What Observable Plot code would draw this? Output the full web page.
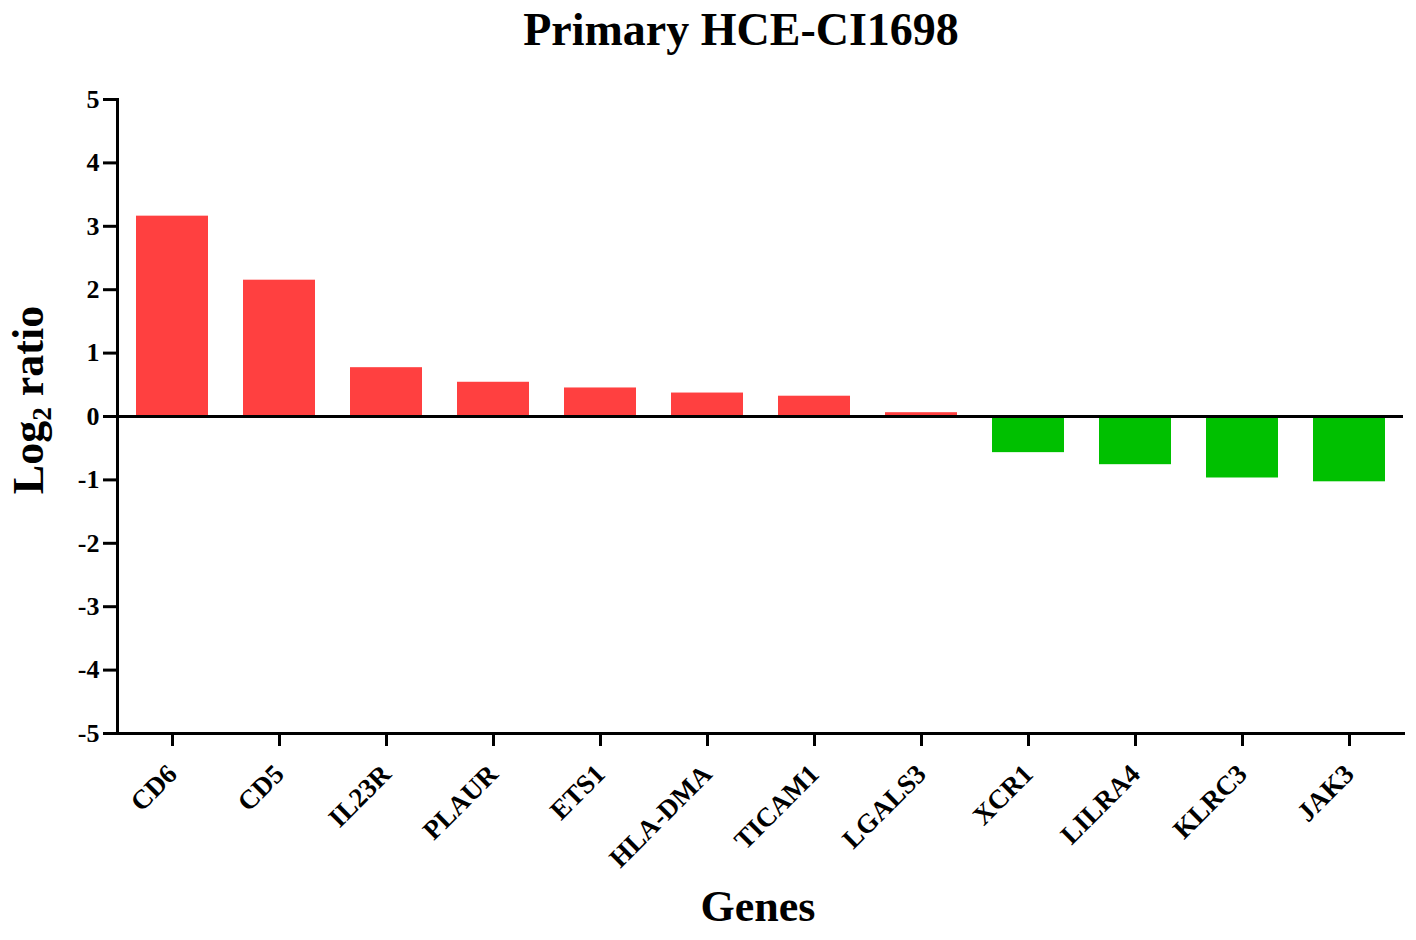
<!DOCTYPE html>
<html><head><meta charset="utf-8">
<script src="https://cdn.jsdelivr.net/npm/d3@7"></script>
<script src="https://cdn.jsdelivr.net/npm/@observablehq/plot@0.6"></script>
<style>
body{margin:0;background:#fff;}
#wrap{position:relative;width:1416px;height:940px;font-family:"Liberation Serif","Times New Roman",serif;font-weight:bold;color:#000;overflow:hidden;}
#chart{position:absolute;left:0;top:0;}
.lbl{position:absolute;white-space:nowrap;line-height:1;}
.sub{font-size:0.62em;position:relative;top:0.28em;}
</style></head><body>
<div id="wrap">
<div id="chart"></div>
<div class="lbl" id="title" style="left:741px;top:7px;font-size:46px;transform:translateX(-50%)">Primary HCE-CI1698</div>
<div class="lbl" id="ylab" style="left:29px;top:400px;font-size:44px;transform:translate(-50%,-50%) rotate(-90deg)">Log<span class="sub">2</span> ratio</div>
<div class="lbl" id="xlab" style="left:758px;top:885px;font-size:44px;transform:translateX(-50%)">Genes</div>
</div>
<script>
const genes = ["CD6","CD5","IL23R","PLAUR","ETS1","HLA-DMA","TICAM1","LGALS3","XCR1","LILRA4","KLRC3","JAK3"];
const log2Ratio = [3.16,2.15,0.77,0.54,0.45,0.37,0.32,0.06,-0.57,-0.76,-0.97,-1.03];
const yTicks = [-5,-4,-3,-2,-1,0,1,2,3,4,5];

const data = genes.map((g,i)=>({gene:g, value:log2Ratio[i], dir: log2Ratio[i] >= 0 ? "up" : "down"}));
const font = '"Liberation Serif","Times New Roman",serif';
const chart = Plot.plot({
  width:1416, height:940,
  marginTop:99, marginBottom:207, marginLeft:117, marginRight:13,
  x:{domain:genes, paddingInner:0.33, paddingOuter:0.165, label:null},
  y:{domain:[-5,5], label:null},
  color:{domain:["up","down"], range:["#ff4040","#00c000"]},
  style:{fontFamily:font, fontWeight:"bold", color:"#000", background:"transparent", overflow:"visible"},
  marks:[
    Plot.barY(data,{x:"gene", y:"value", fill:"dir"}),
    Plot.ruleY([0],{stroke:"#000", strokeWidth:3}),
    Plot.axisY({ticks:yTicks, tickSize:14, tickPadding:4, fontSize:26, strokeWidth:3, label:null, tickFormat:d=>String(d)}),
    Plot.axisX({tickSize:13, tickPadding:23, tickRotate:-45, fontSize:27, strokeWidth:3, label:null}),
    Plot.frame({anchor:"left", stroke:"#000", strokeWidth:3}),
    Plot.frame({anchor:"bottom", stroke:"#000", strokeWidth:3})
  ]
});
document.getElementById("chart").appendChild(chart);
</script>
</body></html>
